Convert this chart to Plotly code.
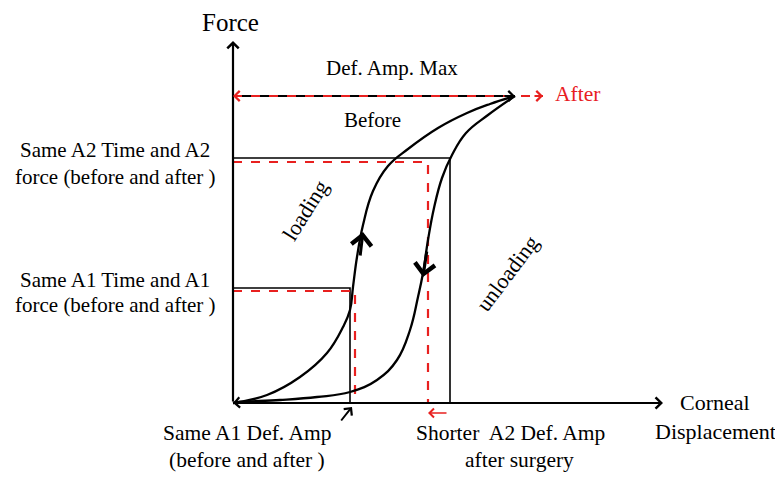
import plotly.graph_objects as go

# ---- data (schematic units: displacement, force) ----
loading_x = [0, 34, 67, 94, 110, 117, 120, 124, 130, 140, 155, 175, 205, 234, 257, 282]
loading_y = [0, 8, 26, 50, 76, 93, 116, 146, 178, 212, 237, 254, 275, 290, 299, 307]
unloading_x = [282, 255, 233, 219, 209, 201, 195, 190, 185, 177, 164, 144, 117, 84, 47, 7, 0]
unloading_y = [307, 288, 270, 248, 225, 195, 163, 130, 106, 73, 43, 23, 11, 6, 3, 1, 0]

def_amp_max_before = 282
def_amp_max_after = 310
def_amp_max_level = 307
a1_force_before, a1_force_after = 115, 112
a1_def_before, a1_def_after = 117, 122
a2_force_before, a2_force_after = 245, 241
a2_def_before, a2_def_after = 217, 195
x_axis_end, y_axis_end = 430, 362

FONT = "Liberation Serif, Times New Roman, serif"
RED = "#e8201f"

fig = go.Figure()

def seg(xs, ys, color="black", width=1.6, dash="solid"):
    fig.add_trace(go.Scatter(x=xs, y=ys, mode="lines", line=dict(color=color, width=width, dash=dash),
                             hoverinfo="skip", showlegend=False))

# black reference lines (before)
seg([0, a2_def_before, a2_def_before], [a2_force_before, a2_force_before, 0])
seg([0, a1_def_before, a1_def_before], [a1_force_before, a1_force_before, 0])
seg([0, def_amp_max_before], [def_amp_max_level, def_amp_max_level], width=2)
# red dashed (after)
seg([0, a2_def_after, a2_def_after], [a2_force_after, a2_force_after, 0], RED, 2.2, "dash")
seg([0, a1_def_after, a1_def_after], [a1_force_after, a1_force_after, 0], RED, 2.2, "dash")
seg([0, def_amp_max_after], [def_amp_max_level, def_amp_max_level], RED, 2.2, "dash")

# hysteresis curves
for cx, cy in ((loading_x, loading_y), (unloading_x, unloading_y)):
    fig.add_trace(go.Scatter(x=cx, y=cy, mode="lines",
                             line=dict(color="black", width=2.3, shape="spline", smoothing=1.2),
                             hoverinfo="skip", showlegend=False))

def arrow(x, y, ax, ay, color="black", width=2, head=4, size=1.2):
    fig.add_annotation(x=x, y=y, ax=ax, ay=ay, xref="x", yref="y", axref="x", ayref="y",
                       showarrow=True, arrowhead=head, arrowwidth=width, arrowsize=size,
                       arrowcolor=color, text="", standoff=0, startstandoff=0)

# axes
arrow(0, y_axis_end, 0, 0, width=2.2, size=1.0)
arrow(x_axis_end, 0, 0, 0, width=2.2, size=1.0)
# def amp arrows heads
arrow(def_amp_max_before, def_amp_max_level, def_amp_max_before - 12, def_amp_max_level, width=1.8, size=1.1)
arrow(def_amp_max_after, def_amp_max_level, def_amp_max_after - 10, def_amp_max_level, RED, 1.8, size=1.1)
arrow(0, def_amp_max_level, 10, def_amp_max_level, RED, 1.8, size=1.1)
# unloading ends at origin
arrow(0, 0, 12, 1, width=1.8, size=1.1)
# direction arrows on curves
arrow(130, 171, 127, 146, width=3, size=1.3)
arrow(190, 126, 194, 153, width=3, size=1.3)
# small pointer arrows
arrow(119, -4, 107, -19, width=2, size=1.0)
arrow(a2_def_after, -10, a2_def_before - 2, -10, RED, 1.6, size=1.1)

def label(x, y, text, size=21, color="black", angle=0, xanchor="center"):
    fig.add_annotation(x=x, y=y, xref="x", yref="y", text=text, showarrow=False,
                       font=dict(family=FONT, size=size, color=color), textangle=angle,
                       xanchor=xanchor, yanchor="middle", align="center")

label(-3, 381, "Force", 25)
label(482, 1, "Corneal", 22)
label(482, -28, "Displacement", 22)
label(159, 335, "Def. Amp. Max", 21)
label(139, 283, "Before", 21)
label(320, 309, "After", 21.5, RED, xanchor="left")
label(-118, 253, "Same A2 Time and A2", 21)
label(-118, 226, "force (before and after )", 21)
label(-118, 123, "Same A1 Time and A1", 21)
label(-118, 98, "force (before and after )", 21)
label(14, -30, "Same A1 Def. Amp", 21.5)
label(14, -57, "(before and after )", 21.5)
label(277, -30, "Shorter  A2 Def. Amp", 21.5)
label(286, -57, "after surgery", 21.5)
label(72, 193, "loading", 22, angle=-58)
label(274, 130, "unloading", 22, angle=-53)

# page body has an 8px margin: shrink the figure and shift ranges so origin lands at (233, 403)
fig.update_layout(
    width=775, height=469, margin=dict(l=0, r=0, t=0, b=0),
    paper_bgcolor="white", plot_bgcolor="white",
    xaxis=dict(range=[-225, 550], visible=False, fixedrange=True),
    yaxis=dict(range=[-74, 395], visible=False, fixedrange=True),
    showlegend=False,
)
fig.write_html("out.html", config={"displayModeBar": False})
